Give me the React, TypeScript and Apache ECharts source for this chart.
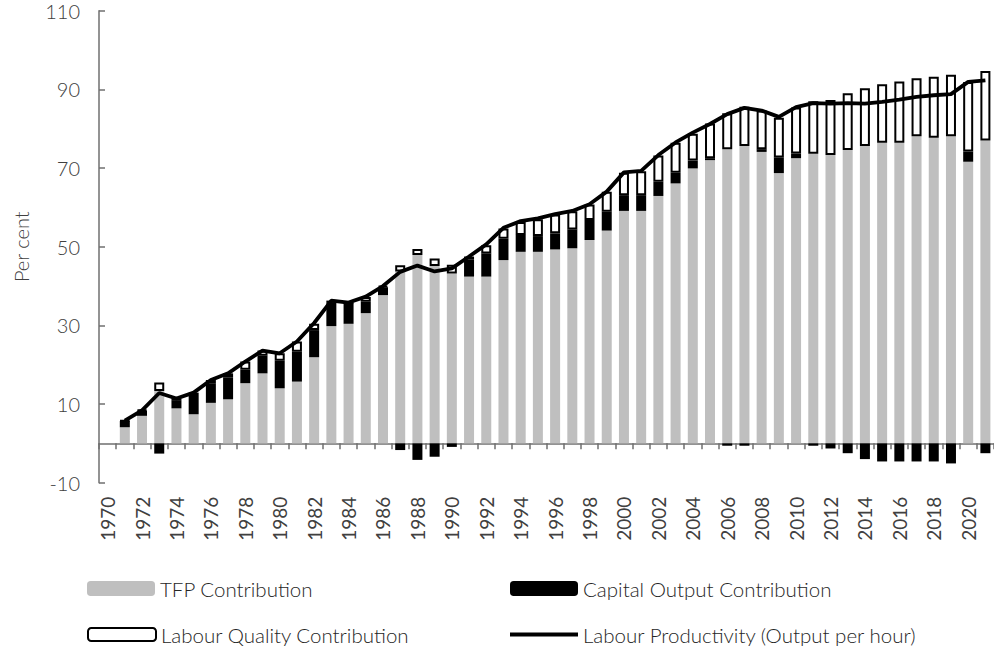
import React, { useEffect, useRef } from "react";
import * as echarts from "echarts";

const years = [
  "1970", "1971", "1972", "1973", "1974", "1975", "1976", "1977", "1978", "1979",
  "1980", "1981", "1982", "1983", "1984", "1985", "1986", "1987", "1988", "1989",
  "1990", "1991", "1992", "1993", "1994", "1995", "1996", "1997", "1998", "1999",
  "2000", "2001", "2002", "2003", "2004", "2005", "2006", "2007", "2008", "2009",
  "2010", "2011", "2012", "2013", "2014", "2015", "2016", "2017", "2018", "2019",
  "2020", "2021",
];

const tfp = [
  null, 4.1, 7.0, 13.3, 8.9, 7.4, 10.3, 11.2, 15.3, 17.8,
  14.0, 15.7, 21.9, 29.8, 30.4, 33.1, 37.7, 43.7, 47.9, 45.1,
  43.2, 42.4, 42.4, 46.6, 48.7, 48.7, 49.3, 49.6, 51.7, 54.1,
  59.1, 59.1, 62.9, 66.1, 69.9, 72.0, 74.8, 75.6, 74.1, 68.7,
  72.5, 73.6, 73.3, 74.6, 75.6, 76.4, 76.4, 78.1, 77.7, 78.1,
  71.6, 77.0,
];

const capital = [
  null, 1.6, 1.3, -2.6, 1.9, 4.9, 5.0, 5.6, 3.4, 4.5,
  7.0, 7.6, 6.9, 5.9, 5.3, 2.9, 2.0, -1.7, -4.2, -3.4,
  -0.9, 4.4, 5.9, 5.4, 4.3, 4.0, 4.1, 4.8, 5.1, 4.8,
  4.0, 4.0, 3.6, 2.7, 2.0, 0.5, -0.6, -0.6, 0.7, 4.0,
  1.2, -0.6, -1.3, -2.5, -4.0, -4.6, -4.6, -4.6, -4.6, -5.1,
  2.6, -2.5,
];

const labourQuality = [
  null, 0.1, 0.2, 2.2, 0.6, 0.6, 0.8, 1.0, 2.1, 1.3,
  1.9, 2.6, 1.6, 0.6, 0.1, 1.2, 0.3, 1.6, 1.5, 1.9,
  2.2, 0.7, 2.1, 2.6, 3.3, 4.3, 4.8, 4.6, 3.9, 5.1,
  5.7, 6.1, 6.7, 7.6, 6.8, 8.8, 9.1, 10.0, 9.8, 10.1,
  11.7, 13.4, 14.0, 14.4, 14.7, 14.9, 15.6, 14.7, 15.5, 15.6,
  17.7, 17.7,
];

const labourProductivity = [
  null, 5.8, 8.4, 12.8, 11.4, 12.9, 16.1, 17.8, 20.8, 23.6,
  22.9, 25.9, 30.6, 36.3, 35.8, 37.3, 40.0, 43.6, 45.2, 43.7,
  44.5, 47.5, 50.6, 54.8, 56.5, 57.2, 58.3, 59.1, 60.8, 64.0,
  68.9, 69.3, 73.3, 76.5, 79.0, 81.2, 83.7, 85.3, 84.6, 83.0,
  85.5, 86.5, 86.4, 86.5, 86.4, 86.8, 87.4, 88.1, 88.5, 88.8,
  91.9, 92.3,
];

const yTickLabels = ["-10", "10", "30", "50", "70", "90", "110"];

const FONT = "Lato, 'Open Sans', sans-serif";

export default function App() {
  const ref = useRef<HTMLDivElement>(null);

  useEffect(() => {
    if (!ref.current) return;
    const chart = echarts.init(ref.current, null, { renderer: "svg" });
    const legendText = { fontFamily: FONT, fontSize: 20.5, fontWeight: 300, color: "#262626" };
    chart.setOption({
      animation: false,
      backgroundColor: "#ffffff",
      grid: { left: 99, top: 10.7, width: 896, height: 472 },
      xAxis: [
        {
          type: "category",
          data: years,
          position: "bottom",
          axisLine: { show: false, onZero: false },
          axisTick: { show: false },
          axisLabel: {
            rotate: 90,
            interval: 1,
            margin: 14,
            fontFamily: FONT,
            fontSize: 19,
            color: "#404040",
          },
          splitLine: { show: false },
        },
        {
          type: "category",
          data: years,
          position: "top",
          axisLine: {
            show: true,
            onZero: true,
            onZeroAxisIndex: 0,
            lineStyle: { color: "#6f6f6f", width: 1.5 },
          },
          axisTick: {
            show: true,
            inside: true,
            length: 6,
            interval: 0,
            lineStyle: { color: "#6f6f6f", width: 1.5 },
          },
          axisLabel: { show: false },
          splitLine: { show: false },
        },
      ],
      yAxis: [
        {
          type: "value",
          min: -10,
          max: 110,
          show: false,
          splitLine: { show: false },
        },
        {
          type: "value",
          min: 0,
          max: 120,
          interval: 20,
          position: "left",
          name: "Per cent",
          nameLocation: "middle",
          nameGap: 68,
          nameTextStyle: { fontFamily: FONT, fontSize: 20, fontWeight: 300, color: "#404040" },
          axisLine: { show: true, lineStyle: { color: "#6f6f6f", width: 1.5 } },
          axisTick: { show: true, inside: true, length: 6, lineStyle: { color: "#6f6f6f", width: 1.5 } },
          axisLabel: {
            margin: 19,
            fontFamily: FONT,
            fontSize: 20,
            fontWeight: 300,
            color: "#404040",
            formatter: (v: number) => yTickLabels[Math.round(v / 20)] ?? "",
          },
          splitLine: { show: false },
        },
      ],
      legend: [
        {
          data: ["TFP Contribution"],
          left: 82,
          top: 573,
          itemWidth: 68,
          itemHeight: 15,
          textStyle: legendText,
        },
        {
          data: ["Capital Output Contribution"],
          left: 505,
          top: 573,
          itemWidth: 68,
          itemHeight: 15,
          textStyle: legendText,
        },
        {
          data: ["Labour Quality Contribution"],
          left: 82,
          top: 619,
          itemWidth: 68,
          itemHeight: 13,
          textStyle: legendText,
        },
        {
          data: [{ name: "Labour Productivity (Output per hour)", icon: "rect" }],
          left: 505,
          top: 619,
          itemWidth: 68,
          itemHeight: 4,
          textStyle: legendText,
        },
      ],
      series: [
        {
          name: "TFP Contribution",
          type: "bar",
          stack: "total",
          xAxisIndex: 0,
          yAxisIndex: 0,
          barWidth: 10,
          data: tfp,
          itemStyle: { color: "#bfbfbf" },
        },
        {
          name: "Capital Output Contribution",
          type: "bar",
          stack: "total",
          xAxisIndex: 0,
          yAxisIndex: 0,
          barWidth: 10,
          data: capital,
          itemStyle: { color: "#000000" },
        },
        {
          name: "Labour Quality Contribution",
          type: "bar",
          stack: "total",
          xAxisIndex: 0,
          yAxisIndex: 0,
          barWidth: 10,
          data: labourQuality,
          itemStyle: { color: "#ffffff", borderColor: "#000000", borderWidth: 2 },
        },
        {
          name: "Labour Productivity (Output per hour)",
          type: "line",
          xAxisIndex: 0,
          yAxisIndex: 0,
          data: labourProductivity,
          symbol: "none",
          connectNulls: false,
          lineStyle: { color: "#000000", width: 3.8 },
          itemStyle: { color: "#000000" },
          z: 5,
        },
      ],
    });
    return () => chart.dispose();
  }, []);

  return (
    <div
      ref={ref}
      style={{ position: "fixed", left: 0, top: 0, width: 994, height: 647 }}
    />
  );
}
